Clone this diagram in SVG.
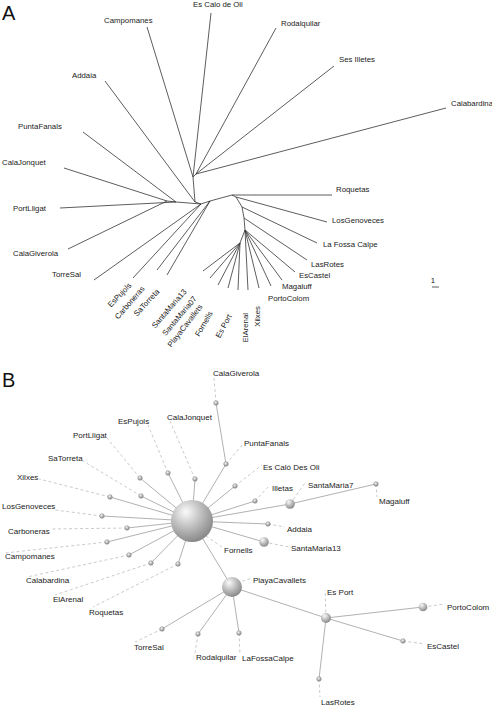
<svg xmlns="http://www.w3.org/2000/svg" width="492" height="708" viewBox="0 0 492 708">
<style>
.bg{fill:#fff}
.panel{font-family:"Liberation Sans",Arial,sans-serif;font-size:20px;fill:#111}
.ta{font-family:"Liberation Sans",Arial,sans-serif;font-size:7.8px;fill:#222}
.tb{font-family:"Liberation Sans",Arial,sans-serif;font-size:8px;fill:#222}
.tree{stroke:#333;stroke-width:0.8;fill:none}
.solid{stroke:#a8a8a8;stroke-width:0.9;fill:none}
.dash{stroke:#bcbcbc;stroke-width:0.8;stroke-dasharray:3,2.5;fill:none}
.dot{fill:url(#sph);stroke:#808080;stroke-width:0.5}
.ball{fill:url(#sph)}
</style>
<defs>
<radialGradient id="sph" cx="0.38" cy="0.32" r="0.72" fx="0.35" fy="0.28">
<stop offset="0" stop-color="#fbfbfb"/>
<stop offset="0.45" stop-color="#c4c4c4"/>
<stop offset="1" stop-color="#858585"/>
</radialGradient>
</defs>
<rect class="bg" x="0" y="0" width="492" height="708"/>

<!-- Panel A -->
<text class="panel" x="2" y="20">A</text>
<g id="treeA-edges" class="tree">
<path d="M193,177L147,27 M193,177L211,13 M193,177L196,174 M196,174L276,28 M196,174L334,66 M196,174L446,108"/>
<path d="M193,177L195,202 M195,202L105,81 M195,202L201,204"/>
<path d="M201,204L176,202 M176,202L60,208 M176,202L83,132 M176,202L167,201 M167,201L64,168 M167,201L68,249"/>
<path d="M201,204L210,201 L232,195 M201,204L94,280 M201,204L133,278 M210,201L157,270 M210,201L167,275"/>
<path d="M232,195L332,195 M232,195L236,197 L327,222 M236,197L242,207 M242,207L317,243 M242,207L244,218 M244,218L307,260 M244,218L245,230 M245,230L295,272 M245,230L282,280 M245,230L271,286 M245,230L259,288 M245,230L248,290 M245,230L240,243"/>
<path d="M240,243L238,290 M240,243L228,288 M240,243L218,285 M240,243L210,278 M240,243L203,271"/>
<path d="M432,287H439"/>
</g>
<g id="treeA-labels">
<text class="ta" x="104" y="23">Campomanes</text>
<text class="ta" x="193" y="7">Es Calo de Oli</text>
<text class="ta" x="281" y="26">Rodalquilar</text>
<text class="ta" x="339" y="62">Ses Illetes</text>
<text class="ta" x="451" y="106">Calabardina</text>
<text class="ta" x="72" y="78">Addaia</text>
<text class="ta" x="18" y="129">PuntaFanals</text>
<text class="ta" x="2" y="165">CalaJonquet</text>
<text class="ta" x="13" y="211">PortLligat</text>
<text class="ta" x="13" y="256">CalaGiverola</text>
<text class="ta" x="52" y="277">TorreSal</text>
<text class="ta" x="336" y="192">Roquetas</text>
<text class="ta" x="332" y="223">LosGenoveces</text>
<text class="ta" x="323" y="247">La Fossa Calpe</text>
<text class="ta" x="311" y="267">LasRotes</text>
<text class="ta" x="299" y="278">EsCastel</text>
<text class="ta" x="282" y="289">Magaluff</text>
<text class="ta" x="268" y="301">PortoColom</text>
<text class="ta" text-anchor="end" transform="translate(132,286) rotate(-46)">EsPujols</text>
<text class="ta" text-anchor="end" transform="translate(145,289) rotate(-49)">Carboneras</text>
<text class="ta" text-anchor="end" transform="translate(160,292) rotate(-47)">SaTorreta</text>
<text class="ta" text-anchor="end" transform="translate(187,292) rotate(-49)">SantaMaria13</text>
<text class="ta" text-anchor="end" transform="translate(197,299) rotate(-50)">SantaMaria07</text>
<text class="ta" text-anchor="end" transform="translate(203,307) rotate(-52)">PlayaCavallets</text>
<text class="ta" text-anchor="end" transform="translate(213,313) rotate(-60)">Fornells</text>
<text class="ta" text-anchor="end" transform="translate(232,316) rotate(-62)">Es Port</text>
<text class="ta" text-anchor="end" transform="translate(248,313) rotate(-90)">ElArenal</text>
<text class="ta" text-anchor="end" transform="translate(259.5,306) rotate(-90)">Xilxes</text>
<text class="ta" x="433" y="283" text-anchor="middle">1</text>
</g>

<!-- Panel B -->
<text class="panel" x="2" y="387">B</text>
<g id="connectors">
<g class="solid">
<path d="M192,521L168,473 M192,521L195,479 M192,521L140,478 M192,521L141,496 M192,521L110,497 M192,521L102,516 M192,521L127,528 M192,521L107,542 M192,521L129,555 M192,521L151,563 M192,521L178,564"/>
<path d="M192,521L226,464 L216,403 M192,521L235,486 M192,521L255,501 M192,521L290,504 L376,484 M192,521L268,524 M192,521L264,542 M192,521L232,587"/>
<path d="M232,587L162,629 M232,587L198,634 M232,587L239,633 M232,587L326,618 M326,618L423,607 M326,618L403,641 M326,618L319,679"/>
</g>
<g class="dash">
<path d="M216,403L214,378 M226,464L243,444 M168,473L148,425 M195,479L170,421 M140,478L107,438 M141,496L83,461 M110,497L39,479 M102,516L55,510 M127,528L52,529 M107,542L5,553 M129,555L27,577 M151,563L55,595 M178,564L93,607"/>
<path d="M235,486L262,465 M255,501L268,487 M290,504L305,483 M376,484L377,497 M268,524L285,527 M264,542L289,547 M206,536L222,547 M237,583L252,578"/>
<path d="M162,629L135,642 M198,634L195,653 M239,633L240,655 M326,618L325,590 M423,607L445,604 M403,641L425,644 M319,679L320,697"/>
</g>
</g>
<g id="hub1"><circle class="ball" cx="192" cy="521" r="21"/><text class="tb" x="224" y="553">Fornells</text></g>
<g id="hub2"><circle class="ball" cx="232" cy="587" r="10"/><text class="tb" x="253" y="583">PlayaCavallets</text></g>
<g id="hub3"><circle class="ball" cx="326" cy="618" r="5"/><text class="tb" x="327" y="595">Es Port</text></g>
<g id="SantaMaria7"><circle class="ball" cx="290" cy="504" r="4.8"/><text class="tb" x="308" y="488">SantaMaria7</text></g>
<g id="SantaMaria13"><circle class="ball" cx="264" cy="542" r="4.8"/><text class="tb" x="291" y="551">SantaMaria13</text></g>
<g id="PortoColom"><circle class="ball" cx="423" cy="607" r="4.3"/><text class="tb" x="447" y="610">PortoColom</text></g>
<g id="CalaGiverola"><circle class="dot" cx="216" cy="403" r="2.3"/><text class="tb" x="213" y="376">CalaGiverola</text></g>
<g id="PuntaFanals"><circle class="dot" cx="226" cy="464" r="2.3"/><text class="tb" x="244" y="446">PuntaFanals</text></g>
<g id="EsPujols"><circle class="dot" cx="168" cy="473" r="2.3"/><text class="tb" x="118" y="424">EsPujols</text></g>
<g id="CalaJonquet"><circle class="dot" cx="195" cy="479" r="2.3"/><text class="tb" x="167" y="420">CalaJonquet</text></g>
<g id="PortLligat"><circle class="dot" cx="140" cy="478" r="2.3"/><text class="tb" x="73" y="438">PortLligat</text></g>
<g id="SaTorreta"><circle class="dot" cx="141" cy="496" r="2.3"/><text class="tb" x="48" y="461">SaTorreta</text></g>
<g id="Xilxes"><circle class="dot" cx="110" cy="497" r="2.3"/><text class="tb" x="17" y="480">Xilxes</text></g>
<g id="LosGenoveces"><circle class="dot" cx="102" cy="516" r="2.3"/><text class="tb" x="2" y="509">LosGenoveces</text></g>
<g id="Carboneras"><circle class="dot" cx="127" cy="528" r="2.3"/><text class="tb" x="8" y="534">Carboneras</text></g>
<g id="Campomanes"><circle class="dot" cx="107" cy="542" r="2.3"/><text class="tb" x="5" y="559">Campomanes</text></g>
<g id="Calabardina"><circle class="dot" cx="129" cy="555" r="2.3"/><text class="tb" x="26" y="583">Calabardina</text></g>
<g id="ElArenal"><circle class="dot" cx="151" cy="563" r="2.3"/><text class="tb" x="53" y="602">ElArenal</text></g>
<g id="Roquetas"><circle class="dot" cx="178" cy="564" r="2.3"/><text class="tb" x="89" y="615">Roquetas</text></g>
<g id="EsCaloDesOli"><circle class="dot" cx="235" cy="486" r="2.3"/><text class="tb" x="263" y="470">Es Caló Des Oli</text></g>
<g id="Illetas"><circle class="dot" cx="255" cy="501" r="2.3"/><text class="tb" x="272" y="491">Illetas</text></g>
<g id="Magaluff"><circle class="dot" cx="376" cy="484" r="2.3"/><text class="tb" x="379" y="504">Magaluff</text></g>
<g id="Addaia"><circle class="dot" cx="268" cy="524" r="2.3"/><text class="tb" x="287" y="532">Addaia</text></g>
<g id="TorreSal"><circle class="dot" cx="162" cy="629" r="2.3"/><text class="tb" x="134" y="650">TorreSal</text></g>
<g id="Rodalquilar"><circle class="dot" cx="198" cy="634" r="2.3"/><text class="tb" x="196" y="660">Rodalquilar</text></g>
<g id="LaFossaCalpe"><circle class="dot" cx="239" cy="633" r="2.3"/><text class="tb" x="242" y="661">LaFossaCalpe</text></g>
<g id="EsCastel"><circle class="dot" cx="403" cy="641" r="2.3"/><text class="tb" x="427" y="649">EsCastel</text></g>
<g id="LasRotes"><circle class="dot" cx="319" cy="679" r="2.3"/><text class="tb" x="321" y="705">LasRotes</text></g>
</svg>
